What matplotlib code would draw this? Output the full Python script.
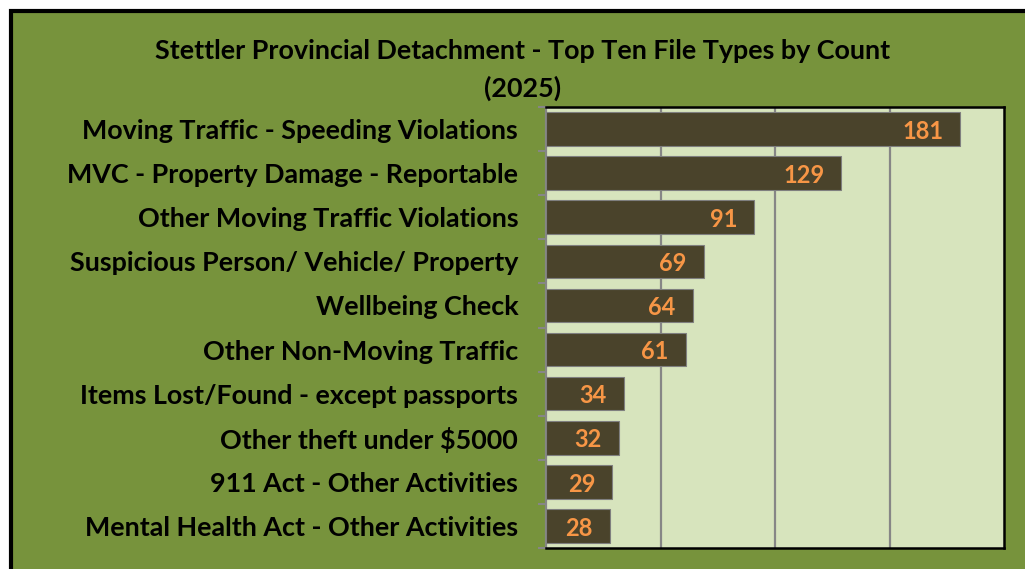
import matplotlib
matplotlib.use("Agg")
import matplotlib.pyplot as plt
from matplotlib.patches import Rectangle

# Chart data
categories = [
    "Moving Traffic - Speeding Violations",
    "MVC - Property Damage - Reportable",
    "Other Moving Traffic Violations",
    "Suspicious Person/ Vehicle/ Property",
    "Wellbeing Check",
    "Other Non-Moving Traffic",
    "Items Lost/Found - except passports",
    "Other theft under $5000",
    "911 Act - Other Activities",
    "Mental Health Act - Other Activities",
]
counts = [181, 129, 91, 69, 64, 61, 34, 32, 29, 28]
title_lines = ["Stettler Provincial Detachment - Top Ten File Types by Count", "(2025)"]

green = "#77933C"
plot_bg = "#D7E4BD"
bar_color = "#4A432B"
label_color = "#F79646"
grid_color = "#868686"

plt.rcParams["font.family"] = ["Lato", "DejaVu Sans"]

fig = plt.figure(figsize=(10.25, 5.69), dpi=100)
fig.patch.set_facecolor("white")

# green chart area with black border, running off the right/bottom edge
frame = Rectangle((11 / 1025, -0.1), 1.2, 1 - 11 / 569 + 0.1,
                  transform=fig.transFigure, facecolor=green,
                  edgecolor="black", linewidth=3, zorder=-5)
fig.patches.append(frame)

ax = fig.add_axes([546 / 1025, 1 - 548 / 569, 458 / 1025, 441 / 569])
ax.set_zorder(2)
ax.set_facecolor(plot_bg)

y = list(range(len(categories)))
ax.barh(y, counts, height=0.76, color=bar_color, edgecolor="#7F7F7F",
        linewidth=0.8, zorder=3)

for yi, v in zip(y, counts):
    ax.text(v - 7.5, yi + 0.05, str(v), ha="right", va="center", color=label_color,
            fontsize=17, fontweight="bold", zorder=4)

ax.set_xlim(0, 200)
ax.set_ylim(len(categories) - 0.5, -0.5)
ax.set_xticks([50, 100, 150])
ax.tick_params(axis="x", length=0, labelbottom=False)
ax.grid(axis="x", color=grid_color, linewidth=1.6, zorder=1)
ax.set_axisbelow(True)

ax.set_yticks(y)
ax.set_yticklabels(categories, fontsize=19.4, fontweight="bold", color="black")
ax.tick_params(axis="y", length=0, pad=20)
ax.set_yticks([i - 0.5 for i in range(len(categories) + 1)], minor=True)
ax.tick_params(axis="y", which="minor", length=6, width=1.5, color=grid_color,
               direction="out")

for side in ["top", "right", "bottom"]:
    ax.spines[side].set_color("black")
    ax.spines[side].set_linewidth(1.8)
ax.spines["left"].set_color(grid_color)
ax.spines["left"].set_linewidth(1.6)

fig.text(523 / 1025, 1 - 51 / 569, title_lines[0], ha="center", va="center",
         fontsize=19.4, fontweight="bold")
fig.text(523 / 1025, 1 - 88 / 569, title_lines[1], ha="center", va="center",
         fontsize=19.4, fontweight="bold")

fig.savefig("out.png", dpi=100)
